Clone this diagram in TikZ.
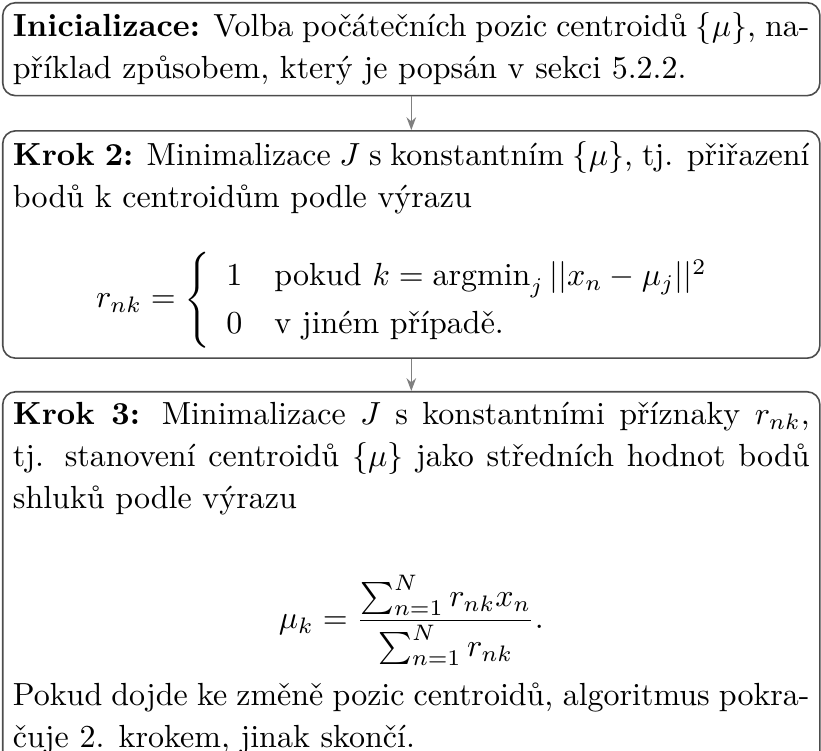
\documentclass[tikz,border=0pt]{standalone}
\usepackage{fontspec}
\usepackage{amsmath}
\usetikzlibrary{arrows.meta,positioning}
\newcommand{\dskips}[2]{\setlength{\abovedisplayskip}{#1}\setlength{\belowdisplayskip}{#2}%
  \setlength{\abovedisplayshortskip}{#1}\setlength{\belowdisplayshortskip}{#2}}
\tikzset{
  stepbox/.style={draw=black!70, line width=0.5pt, rounded corners=4pt,
    inner sep=3.2pt, text width=249pt, align=justify,
    font={\fontsize{10pt}{13.1pt}\selectfont}},
  flow/.style={draw=black!50, line width=0.5pt, -{Stealth[length=4pt,width=3pt]}}
}
\begin{document}
\begin{tikzpicture}[node distance=10.5pt]
\useasboundingbox (0,0) rectangle (256.6pt,-234.7pt);
\node[stepbox, anchor=north west] (b1) at (0.6pt,-0.6pt) {\textbf{Inicializace:} Volba počátečních pozic centroidů $\{\mu\}$, na-\linebreak příklad způsobem, který je popsán v sekci 5.2.2.};
\node[stepbox, below=of b1] (b2) {\dskips{11pt}{4pt}\textbf{Krok 2:} Minimalizace $J$ s konstantním $\{\mu\}$, tj. přiřazení\linebreak bodů k centroidům podle výrazu
\[ r_{nk} = \left\{ \renewcommand{\arraystretch}{1.13}\begin{array}{ll} 1 & \text{pokud } k = \operatorname{argmin}_j ||x_n - \mu_j||^2\\ 0 & \text{v jiném případě.}\end{array}\right.\]};
\node[stepbox, below=10pt of b2] (b3) {\dskips{17.8pt}{4.5pt}\textbf{Krok 3:} Minimalizace $J$ s konstantními příznaky $r_{nk}$,\linebreak tj. stanovení centroidů $\{\mu\}$ jako středních hodnot bodů\linebreak shluků podle výrazu
\[ \mu_k = \frac{\sum_{n=1}^N r_{nk} x_n}{\sum_{n=1}^N r_{nk}}. \]
Pokud dojde ke změně pozic centroidů, algoritmus pokra-\linebreak čuje 2. krokem, jinak skončí.};
\draw[flow] (b1.south) -- (b2.north);
\draw[flow] (b2.south) -- (b3.north);
\end{tikzpicture}
\end{document}
